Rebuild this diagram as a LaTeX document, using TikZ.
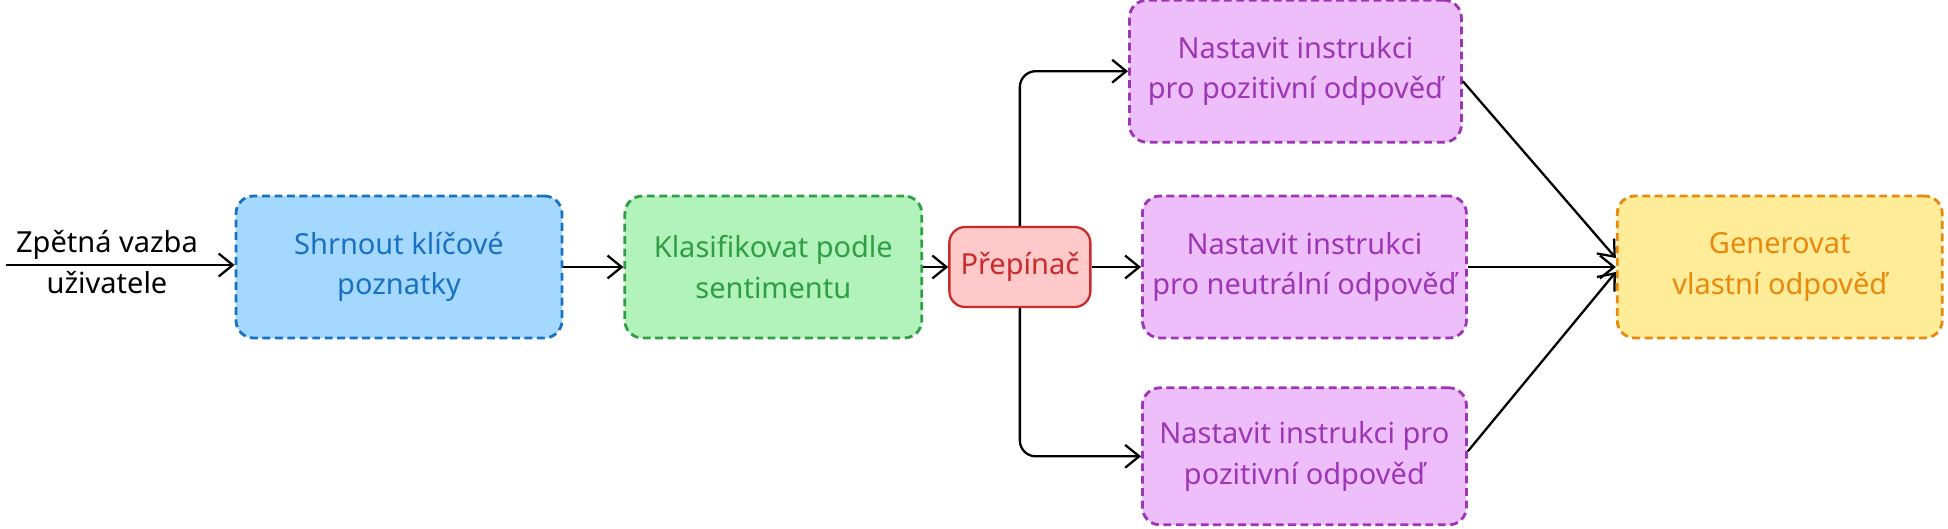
\documentclass[tikz,border=0pt]{standalone}
\usepackage{fontspec}
\setmainfont{Noto Sans}
\usetikzlibrary{positioning,arrows.meta,calc}
\definecolor{sumfill}{HTML}{A5D8FF}
\definecolor{sumline}{HTML}{1971C2}
\definecolor{clsfill}{HTML}{B2F2BB}
\definecolor{clsline}{HTML}{2F9E44}
\definecolor{swfill}{HTML}{FFC9C9}
\definecolor{swline}{HTML}{C92A2A}
\definecolor{setfill}{HTML}{EEBEFA}
\definecolor{setline}{HTML}{9C36B5}
\definecolor{genfill}{HTML}{FFEC99}
\definecolor{genline}{HTML}{E8890C}
\tikzset{
  box/.style={draw,dash pattern=on 4.5pt off 2.6pt,line width=1.6pt,rounded corners=10pt,align=center,
    minimum height=2.84cm,inner sep=4pt,font=\fontsize{16.5}{23}\selectfont},
  swbox/.style={draw=swline,fill=swfill,text=swline,line width=1.3pt,rounded corners=9pt,align=center,
    minimum width=2.82cm,minimum height=1.6cm,inner sep=3pt,font=\fontsize{16.5}{23}\selectfont},
  sumbox/.style={box,fill=sumfill,draw=sumline,text=sumline},
  clsbox/.style={box,fill=clsfill,draw=clsline,text=clsline},
  setbox/.style={box,fill=setfill,draw=setline,text=setline},
  genbox/.style={box,fill=genfill,draw=genline,text=genline},
  arr/.style={-{Straight Barb[length=8pt,width=13pt]},line width=1.3pt}
}
\begin{document}
\begin{tikzpicture}[node distance=1cm]
\path[use as bounding box] (0,0) rectangle (38.96,-10.56);
% main row
\node[sumbox, minimum width=6.52cm] (sum) at (7.98,-5.34) {Shrnout klíčové\\poznatky};
\node[clsbox, minimum width=5.94cm, right=1.2cm of sum] (cls) {Klasifikovat podle\\sentimentu};
\node[swbox, right=0.5cm of cls] (sw) {Přepínač};
\node[setbox, minimum width=6.48cm, right=0.99cm of sw] (neu) {Nastavit instrukci\\pro neutrální odpověď};
\node[setbox, minimum width=6.64cm, above=1.02cm of neu, xshift=-0.18cm] (pos) {Nastavit instrukci\\pro pozitivní odpověď};
\node[setbox, minimum width=6.48cm, minimum height=2.74cm, below=0.94cm of neu] (posb) {Nastavit instrukci pro\\pozitivní odpověď};
\node[genbox, minimum width=6.5cm, right=2.96cm of neu] (gen) {Generovat\\vlastní odpověď};
% input
\coordinate (in) at (0.12,-5.3);
\node[align=center, font=\fontsize{16.5}{23}\selectfont] (fb) at (2.14,-5.24) {Zpětná vazba\\uživatele};
\draw[arr] (in) -- (in -| sum.west);
\draw[arr] (sum) -- (cls);
\draw[arr] (cls) -- (sw);
\draw[arr] (sw) -- (neu);
\draw[arr, rounded corners=9pt] (sw.north) |- (pos.west);
\draw[arr, rounded corners=9pt] (sw.south) |- (posb.west);
\draw[arr] ([yshift=-0.2cm]pos.east) -- ([yshift=0.18cm]gen.west);
\draw[arr] (neu) -- (gen);
\draw[arr] ([yshift=0.1cm]posb.east) -- ([yshift=-0.1cm]gen.west);
\end{tikzpicture}
\end{document}
